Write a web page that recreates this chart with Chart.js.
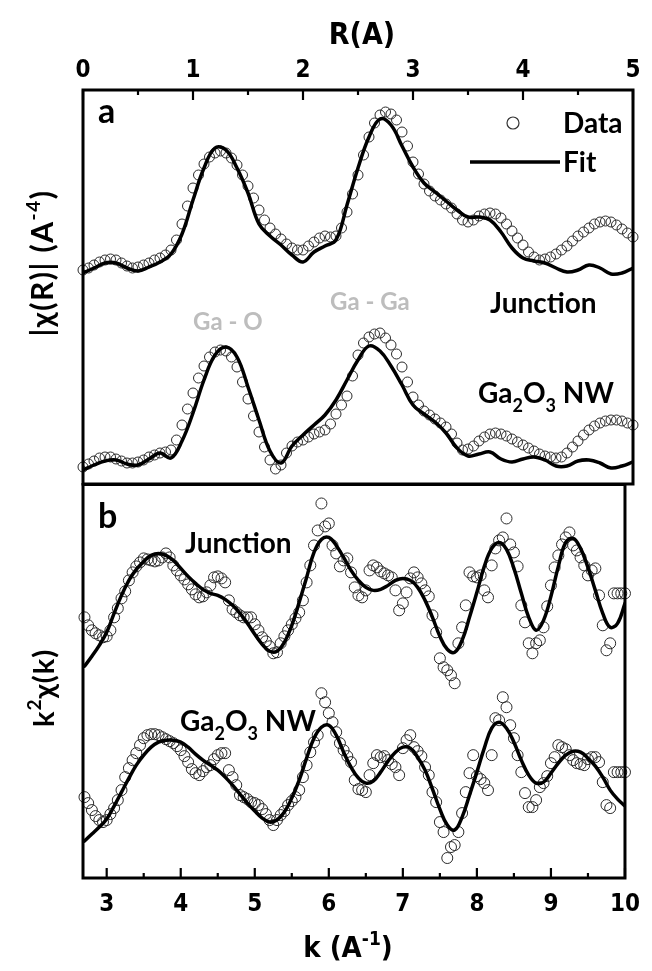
<!DOCTYPE html>
<html><head><meta charset="utf-8">
<script src="https://cdn.jsdelivr.net/npm/chart.js@4.4.0/dist/chart.umd.min.js"></script>
<style>
html,body{margin:0;padding:0;background:#fff;}
#wrap{position:relative;width:652px;height:971px;overflow:hidden;background:#fff;}
canvas{position:absolute;left:0;}
#ca{top:0;}
#cb{top:478px;}
</style></head><body>
<div id="wrap"><canvas id="ca" width="652" height="490"></canvas><canvas id="cb" width="652" height="493"></canvas></div>
<script>
// ---------- Panel a : |chi(R)| vs R ----------
const rData = [
0.00,0.05,0.10,0.15,0.20,0.25,0.30,0.35,0.40,0.45,
0.50,0.55,0.60,0.65,0.70,0.75,0.80,0.85,0.90,0.95,
1.00,1.05,1.10,1.15,1.20,1.25,1.30,1.35,1.40,1.45,
1.50,1.55,1.60,1.65,1.70,1.75,1.80,1.85,1.90,1.95,
2.00,2.05,2.10,2.15,2.20,2.25,2.30,2.35,2.40,2.45,
2.50,2.55,2.60,2.65,2.70,2.75,2.80,2.85,2.90,2.95,
3.00,3.05,3.10,3.15,3.20,3.25,3.30,3.35,3.40,3.45,
3.50,3.55,3.60,3.65,3.70,3.75,3.80,3.85,3.90,3.95,
4.00,4.05,4.10,4.15,4.20,4.25,4.30,4.35,4.40,4.45,
4.50,4.55,4.60,4.65,4.70,4.75,4.80,4.85,4.90,4.95,
5.00];
const junctionRData = [
2.14,2.16,2.19,2.22,2.24,2.25,2.24,2.21,2.18,2.16,
2.17,2.19,2.21,2.24,2.26,2.29,2.34,2.44,2.60,2.78,
2.96,3.09,3.20,3.27,3.31,3.33,3.31,3.26,3.19,3.09,
2.98,2.86,2.74,2.64,2.56,2.50,2.45,2.40,2.36,2.34,
2.34,2.38,2.42,2.46,2.48,2.47,2.48,2.56,2.72,2.90,
3.09,3.29,3.47,3.61,3.69,3.72,3.70,3.64,3.52,3.38,
3.22,3.10,3.00,2.93,2.88,2.84,2.80,2.76,2.70,2.64,
2.62,2.64,2.68,2.70,2.71,2.70,2.66,2.60,2.53,2.46,
2.39,2.32,2.27,2.24,2.25,2.27,2.30,2.34,2.38,2.43,
2.48,2.52,2.56,2.60,2.62,2.63,2.62,2.59,2.55,2.51,
2.47];
const nwRData = [
0.17,0.20,0.23,0.26,0.27,0.27,0.25,0.23,0.21,0.21,
0.22,0.24,0.27,0.29,0.31,0.32,0.34,0.44,0.59,0.75,
0.91,1.06,1.18,1.27,1.32,1.34,1.33,1.27,1.17,1.02,
0.85,0.68,0.52,0.37,0.24,0.15,0.19,0.31,0.38,0.42,
0.44,0.47,0.50,0.52,0.54,0.60,0.70,0.79,0.88,1.08,
1.29,1.41,1.47,1.50,1.51,1.46,1.39,1.30,1.17,1.02,
0.87,0.79,0.73,0.69,0.65,0.61,0.57,0.50,0.41,0.34,
0.35,0.38,0.43,0.47,0.50,0.51,0.50,0.48,0.45,0.42,
0.39,0.36,0.33,0.30,0.28,0.27,0.26,0.27,0.31,0.37,
0.43,0.49,0.54,0.58,0.61,0.63,0.64,0.64,0.63,0.61,
0.59];
const rFit = [
0.0,0.1,0.2,0.3,0.4,0.5,0.6,0.7,0.8,0.9,
1.0,1.1,1.2,1.3,1.4,1.5,1.6,1.7,1.8,1.9,
2.0,2.1,2.2,2.3,2.4,2.5,2.6,2.7,2.8,2.9,
3.0,3.1,3.2,3.3,3.4,3.5,3.6,3.7,3.8,3.9,
4.0,4.1,4.2,4.3,4.4,4.5,4.6,4.7,4.8,4.9,
5.0];
const junctionRFit = [
2.11,2.16,2.21,2.21,2.16,2.13,2.17,2.22,2.30,2.50,
2.84,3.16,3.36,3.34,3.16,2.91,2.60,2.48,2.39,2.29,
2.22,2.32,2.38,2.44,2.79,3.16,3.47,3.65,3.59,3.38,
3.17,3.01,2.92,2.83,2.74,2.67,2.67,2.64,2.52,2.36,
2.26,2.23,2.21,2.16,2.12,2.14,2.19,2.16,2.10,2.11,
2.16];
const nwRFit = [
0.14,0.19,0.23,0.24,0.20,0.19,0.25,0.31,0.26,0.43,
0.71,1.04,1.29,1.37,1.27,0.97,0.64,0.33,0.21,0.38,
0.49,0.59,0.69,0.84,1.04,1.24,1.38,1.33,1.18,0.99,
0.79,0.70,0.62,0.51,0.36,0.28,0.30,0.32,0.25,0.22,
0.25,0.27,0.24,0.18,0.18,0.23,0.24,0.21,0.16,0.18,
0.22];
const rTicks = [0,1,2,3,4,5];
const rTickLabels = ['0','1','2','3','4','5'];

// ---------- Panel b : k^2 chi(k) vs k ----------
const kData = [
2.70,2.75,2.80,2.85,2.90,2.95,3.00,3.05,3.10,3.15,
3.20,3.25,3.30,3.35,3.40,3.45,3.50,3.55,3.60,3.65,
3.70,3.75,3.80,3.85,3.90,3.95,4.00,4.05,4.10,4.15,
4.20,4.25,4.30,4.35,4.40,4.45,4.50,4.55,4.60,4.65,
4.70,4.75,4.80,4.85,4.90,4.95,5.00,5.05,5.10,5.15,
5.20,5.25,5.30,5.35,5.40,5.45,5.50,5.55,5.60,5.65,
5.70,5.75,5.80,5.85,5.90,5.95,6.00,6.05,6.10,6.15,
6.20,6.25,6.30,6.35,6.40,6.45,6.50,6.55,6.60,6.65,
6.70,6.75,6.80,6.85,6.90,6.95,7.00,7.05,7.10,7.15,
7.20,7.25,7.30,7.35,7.40,7.45,7.50,7.55,7.60,7.65,
7.70,7.75,7.80,7.85,7.90,7.95,8.00,8.05,8.10,8.15,
8.20,8.25,8.30,8.35,8.40,8.45,8.50,8.55,8.60,8.65,
8.70,8.75,8.80,8.85,8.90,8.95,9.00,9.05,9.10,9.15,
9.20,9.25,9.30,9.35,9.40,9.45,9.50,9.55,9.60,9.65,
9.70,9.75,9.80,9.85,9.90,9.95,10.00];
const junctionKData = [
2.61,2.53,2.48,2.45,2.43,2.41,2.42,2.48,2.61,2.70,
2.80,2.87,2.98,3.06,3.12,3.16,3.20,3.19,3.18,3.17,
3.18,3.21,3.25,3.21,3.13,3.08,3.03,2.99,2.94,2.89,
2.84,2.81,2.82,2.86,2.93,3.01,3.02,3.00,2.96,2.78,
2.69,2.66,2.63,2.61,2.61,2.61,2.54,2.48,2.41,2.37,
2.32,2.25,2.26,2.35,2.42,2.48,2.54,2.60,2.66,2.78,
2.96,3.13,3.33,3.48,3.75,3.52,3.55,3.33,3.25,3.12,
3.18,3.20,3.06,2.91,2.83,2.81,2.88,3.08,3.13,3.11,
3.07,3.05,3.03,3.01,2.88,2.68,2.75,2.86,3.00,3.06,
3.01,2.95,2.88,2.82,2.63,2.46,2.20,2.11,2.08,2.03,
1.95,2.35,2.51,2.73,3.06,3.02,3.01,3.03,2.88,2.81,
3.13,3.30,3.38,3.41,3.60,3.34,3.26,3.12,2.73,2.56,
2.35,2.25,2.35,2.38,2.51,2.72,2.93,3.11,3.23,3.34,
3.41,3.46,3.33,3.28,3.21,3.13,3.03,3.08,3.10,2.83,
2.53,2.28,2.35,2.85,2.85,2.85,2.85];
const nwKData = [
0.81,0.75,0.68,0.62,0.58,0.56,0.58,0.64,0.70,0.78,
0.88,1.01,1.10,1.18,1.25,1.33,1.40,1.43,1.44,1.44,
1.43,1.41,1.39,1.37,1.35,1.32,1.28,1.22,1.16,1.09,
1.05,1.03,1.07,1.11,1.13,1.19,1.23,1.25,1.25,1.08,
1.01,0.93,0.83,0.81,0.79,0.76,0.75,0.73,0.69,0.64,
0.58,0.53,0.58,0.63,0.67,0.73,0.77,0.81,0.88,1.01,
1.13,1.26,1.36,1.43,1.85,1.76,1.65,1.56,1.46,1.35,
1.28,1.22,1.16,0.98,0.89,0.88,0.86,1.03,1.15,1.23,
1.21,1.22,1.18,1.14,1.11,1.03,1.30,1.38,1.43,1.31,
1.27,1.22,1.11,1.03,0.86,0.76,0.56,0.46,0.20,0.31,
0.33,0.46,0.65,0.86,1.05,1.23,1.02,0.99,0.95,0.88,
1.23,1.60,1.58,1.81,1.71,1.53,1.40,1.23,1.06,0.85,
0.71,0.71,0.78,0.91,0.95,1.02,1.15,1.21,1.33,1.31,
1.29,1.23,1.18,1.15,1.14,1.13,1.19,1.21,1.21,1.16,
0.96,0.73,0.70,1.06,1.06,1.06,1.06];
const kFit = [
2.7,2.8,2.9,3.0,3.1,3.2,3.3,3.4,3.5,3.6,
3.7,3.8,3.9,4.0,4.1,4.2,4.3,4.4,4.5,4.6,
4.7,4.8,4.9,5.0,5.1,5.2,5.3,5.4,5.5,5.6,
5.7,5.8,5.9,6.0,6.1,6.2,6.3,6.4,6.5,6.6,
6.7,6.8,6.9,7.0,7.1,7.2,7.3,7.4,7.5,7.6,
7.7,7.8,7.9,8.0,8.1,8.2,8.3,8.4,8.5,8.6,
8.7,8.8,8.9,9.0,9.1,9.2,9.3,9.4,9.5,9.6,
9.7,9.8,9.9,10.0];
const junctionKFit = [
2.12,2.22,2.33,2.46,2.65,2.83,2.98,3.09,3.17,3.23,
3.25,3.23,3.18,3.10,3.02,2.95,2.89,2.85,2.83,2.79,
2.73,2.65,2.55,2.44,2.34,2.27,2.27,2.36,2.53,2.76,
3.01,3.26,3.39,3.41,3.33,3.21,3.08,2.98,2.91,2.88,
2.89,2.93,2.98,3.00,2.98,2.91,2.78,2.61,2.42,2.29,
2.26,2.38,2.61,2.86,3.12,3.30,3.36,3.29,3.10,2.85,
2.61,2.48,2.58,2.82,3.12,3.36,3.40,3.30,3.11,2.88,
2.65,2.51,2.55,2.75];
const nwKFit = [
0.37,0.44,0.51,0.59,0.72,0.86,1.00,1.13,1.23,1.31,
1.36,1.38,1.38,1.36,1.31,1.24,1.18,1.13,1.08,1.01,
0.93,0.84,0.75,0.67,0.60,0.56,0.58,0.66,0.80,0.98,
1.20,1.40,1.51,1.53,1.43,1.26,1.11,1.00,0.95,0.97,
1.06,1.17,1.26,1.31,1.30,1.21,1.08,0.89,0.69,0.53,
0.48,0.61,0.83,1.06,1.30,1.50,1.56,1.50,1.36,1.18,
1.03,0.95,0.96,1.05,1.15,1.23,1.27,1.26,1.20,1.12,
1.01,0.88,0.79,0.72];
const kTicks = [3,4,5,6,7,8,9,10];
const kTickLabels = ['3','4','5','6','7','8','9','10'];

// ---------- helpers ----------
const NARROW = '"Liberation Sans Narrow","DejaVu Sans Condensed","Liberation Sans",sans-serif';
const CAL = 'Lato,"Open Sans",sans-serif';
function toXY(xs, ys){ return xs.map((x,i)=>({x:x, y:ys[i]})); }

function rich(ctx, segs, x, y, align, rotate, family, color, spacing){
  ctx.save();
  if (spacing && 'letterSpacing' in ctx) ctx.letterSpacing = spacing + 'px';
  let w = 0;
  const parts = segs.map(s => {
    ctx.font = 'bold ' + s[1] + 'px ' + family;
    const pw = ctx.measureText(s[0]).width;
    w += pw;
    return {t:s[0], size:s[1], dy:s[2]||0, w:pw};
  });
  ctx.translate(x, y);
  if (rotate) ctx.rotate(-Math.PI/2);
  ctx.fillStyle = color || '#000';
  ctx.textBaseline = 'alphabetic';
  ctx.textAlign = 'left';
  let cx = align === 'center' ? -w/2 : 0;
  parts.forEach(p => {
    ctx.font = 'bold ' + p.size + 'px ' + family;
    ctx.fillText(p.t, cx, p.dy);
    cx += p.w;
  });
  ctx.restore();
}

function panelPlugin(cfg){
  return {
    id: 'panel' + cfg.name,
    afterDraw(chart){
      const ctx = chart.ctx, a = chart.chartArea, sx = chart.scales.x;
      ctx.save();
      ctx.strokeStyle = '#000';
      ctx.lineWidth = 3;
      ctx.strokeRect(a.left, a.top, a.right - a.left, a.bottom - a.top);
      const vals = sx.ticks.map(t => t.value);
      const edge = cfg.side === 'top' ? a.top : a.bottom;
      const dir = cfg.side === 'top' ? 1 : -1;
      ctx.lineWidth = 2.2;
      ctx.beginPath();
      vals.forEach((v,i) => {
        const px = sx.getPixelForValue(v);
        ctx.moveTo(px, edge); ctx.lineTo(px, edge + dir*10);
        if (i < vals.length - 1) {
          const pm = sx.getPixelForValue((v + vals[i+1]) / 2);
          ctx.moveTo(pm, edge); ctx.lineTo(pm, edge + dir*5);
        }
      });
      ctx.stroke();
      const cxm = (a.left + a.right) / 2;
      rich(ctx, cfg.xTitle, cxm + cfg.xTitleDx, cfg.xTitleY, 'center', false, NARROW, '#000');
      rich(ctx, cfg.yTitle, cfg.yTitleX, cfg.yTitleY, 'center', true, CAL, '#000', cfg.ySpacing);
      cfg.notes.forEach(n => rich(ctx, n.segs, a.left + n.x, a.top + n.y, 'left', false, CAL, n.color || '#000'));
      if (cfg.legend) {
        const L = cfg.legend;
        ctx.beginPath();
        ctx.lineWidth = 1.2; ctx.strokeStyle = '#333';
        ctx.arc(a.left + L.cx, a.top + L.cy, 6, 0, Math.PI*2);
        ctx.stroke();
        ctx.beginPath();
        ctx.lineWidth = 3.5; ctx.strokeStyle = '#000';
        ctx.moveTo(a.left + L.x1, a.top + L.ly); ctx.lineTo(a.left + L.x2, a.top + L.ly);
        ctx.stroke();
      }
      ctx.restore();
    }
  };
}

function fitSet(label, xs, ys){
  return {label, data: toXY(xs, ys), showLine:true, borderColor:'#000', borderWidth:3.5,
          pointRadius:0, tension:0.4, fill:false, order:0, borderCapStyle:'round'};
}
function dataSet(label, xs, ys, r){
  return {label, data: toXY(xs, ys), showLine:false, pointRadius:r, pointBorderWidth:1,
          pointBorderColor:'#2a2a2a', pointBackgroundColor:'rgba(0,0,0,0)', order:1, clip:false};
}
function baseOptions(xcfg, pad){
  return {
    responsive:false, animation:false, devicePixelRatio:1,
    layout:{padding:pad},
    plugins:{legend:{display:false}, tooltip:{enabled:false}},
    scales:{
      x:{type:'linear', position:xcfg.position, min:xcfg.min, max:xcfg.max,
         afterBuildTicks: s => { s.ticks = xcfg.ticks.map(v => ({value:v})); },
         afterFit: s => { s.height = xcfg.height; },
         grid:{display:false, drawTicks:false}, border:{display:false},
         ticks:{autoSkip:false, maxRotation:0, color:'#000', padding:xcfg.padding,
                font:{family:NARROW, size:24, weight:'bold'},
                callback:(v) => xcfg.labels[xcfg.ticks.indexOf(v)]}},
      y:{min:0, max:3.94, afterFit: s => { s.width = 83; },
         ticks:{display:false}, grid:{display:false, drawTicks:false}, border:{display:false}}
    }
  };
}

// ---------- chart a ----------
new Chart(document.getElementById('ca'), {
  type:'scatter',
  data:{datasets:[
    fitSet('Fit Junction', rFit, junctionRFit),
    fitSet('Fit Ga2O3 NW', rFit, nwRFit),
    dataSet('Data Junction', rData, junctionRData, 5),
    dataSet('Data Ga2O3 NW', rData, nwRData, 5)
  ]},
  options: baseOptions({position:'top', min:0, max:5, ticks:rTicks, labels:rTickLabels, height:90, padding:5},
                       {left:0, right:19, top:0, bottom:6}),
  plugins:[panelPlugin({
    name:'a', side:'top',
    xTitle:[['R(A)',30]], xTitleDx:4, xTitleY:44,
    yTitle:[['|χ(R)| (A',30],['-4',19,-13],[')',30]], yTitleX:53, yTitleY:263, ySpacing:1.5,
    notes:[
      {segs:[['a',34]], x:15, y:33},
      {segs:[['Data',28]], x:480, y:43},
      {segs:[['Fit',28]], x:480, y:82},
      {segs:[['Junction',28]], x:407, y:223},
      {segs:[['Ga - Ga',24]], x:247, y:220, color:'#bdbdbd'},
      {segs:[['Ga - O',24]], x:110, y:240, color:'#bdbdbd'},
      {segs:[['Ga',28],['2',18,9],['O',28],['3',18,9],[' NW',28]], x:395, y:313}
    ],
    legend:{cx:430, cy:33, x1:387, x2:477, ly:72}
  })]
});

// ---------- chart b ----------
new Chart(document.getElementById('cb'), {
  type:'scatter',
  data:{datasets:[
    fitSet('Fit Junction', kFit, junctionKFit),
    fitSet('Fit Ga2O3 NW', kFit, nwKFit),
    dataSet('Data Junction', kData, junctionKData, 5.5),
    dataSet('Data Ga2O3 NW', kData, nwKData, 5.5)
  ]},
  options: baseOptions({position:'bottom', min:2.68, max:10, ticks:kTicks, labels:kTickLabels, height:93, padding:12},
                       {left:0, right:19, top:6, bottom:0}),
  plugins:[panelPlugin({
    name:'b', side:'bottom',
    xTitle:[['k (A',29],['-1',19,-12],[')',29]], xTitleDx:-6, xTitleY:479,
    yTitle:[['k',29],['2',19,-13],['χ(k)',29]], yTitleX:54, yTitleY:210, ySpacing:1,
    notes:[
      {segs:[['b',34]], x:15, y:43},
      {segs:[['Junction',28]], x:102, y:68},
      {segs:[['Ga',28],['2',18,9],['O',28],['3',18,9],[' NW',28]], x:97, y:246}
    ]
  })]
});
</script>
</body></html>
